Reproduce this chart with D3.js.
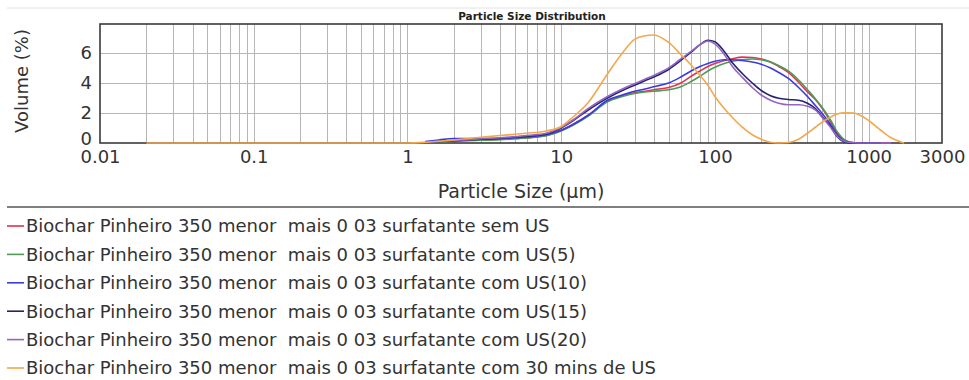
<!DOCTYPE html>
<html>
<head>
<meta charset="utf-8">
<script src="https://cdn.jsdelivr.net/npm/d3@7/dist/d3.min.js"></script>
<style>
  html, body { margin: 0; padding: 0; background: #fff; }
  svg { display: block; font-family: "DejaVu Sans", Verdana, sans-serif; }
  .legend text { white-space: pre; }
</style>
</head>
<body>
<svg id="chart" width="969" height="380"></svg>
<script>
// Particle sizes (µm) at which the volume fractions are sampled
const sizes = [0.02, 0.1, 0.5, 1, 1.3, 1.6, 2, 2.5, 3, 4, 5, 6, 8, 10, 12, 15, 20, 25, 30,
  35, 40, 50, 60, 70, 80, 90, 100, 115, 130, 150, 175, 200, 230, 260, 300, 350, 400, 450,
  500, 560, 630, 700, 800, 900, 1000, 1200, 1400, 1700];

// Volume (%) per sample, null where the measurement has no value
const semUS = [null, null, null, null, 0.05, 0.1, 0.15, 0.18, 0.2, 0.25, 0.3, 0.35, 0.5, 0.85,
  1.25, 1.85, 2.8, 3.15, 3.35, 3.45, 3.55, 3.7, 4.0, 4.45, 4.8, 5.1, 5.3, 5.5, 5.62, 5.72, 5.7,
  5.6, 5.4, 5.1, 4.7, 4.05, 3.4, 2.9, 2.3, 1.5, 0.6, 0.15, 0.02, 0, 0, 0, 0, null];
const comUS5 = [null, null, null, null, 0.03, 0.08, 0.12, 0.15, 0.18, 0.22, 0.28, 0.33, 0.48, 0.8,
  1.2, 1.8, 2.75, 3.1, 3.3, 3.4, 3.45, 3.55, 3.75, 4.1, 4.45, 4.8, 5.05, 5.3, 5.45, 5.55, 5.6,
  5.55, 5.4, 5.15, 4.8, 4.2, 3.55, 2.95, 2.35, 1.6, 0.7, 0.2, 0.02, 0, 0, 0, null, null];
const comUS10 = [null, null, null, null, 0.1, 0.2, 0.3, 0.3, 0.3, 0.3, 0.35, 0.4, 0.55, 0.85,
  1.25, 1.85, 2.85, 3.2, 3.45, 3.6, 3.75, 4.0, 4.4, 4.8, 5.1, 5.3, 5.45, 5.55, 5.55, 5.5, 5.4,
  5.25, 5.0, 4.7, 4.3, 3.7, 3.1, 2.5, 1.95, 1.3, 0.5, 0.12, 0, 0, 0, 0, null, null];
const comUS15 = [null, null, null, null, 0.05, 0.1, 0.15, 0.2, 0.25, 0.3, 0.4, 0.45, 0.6, 1.0,
  1.5, 2.2, 3.0, 3.5, 3.85, 4.15, 4.4, 4.9, 5.5, 6.05, 6.55, 6.85, 6.75, 6.1, 5.35, 4.65, 4.0,
  3.5, 3.15, 2.98, 2.9, 2.85, 2.65, 2.3, 1.75, 1.15, 0.38, 0.06, 0, 0, 0, 0, null, null];
const comUS20 = [null, null, null, null, 0.05, 0.12, 0.18, 0.22, 0.28, 0.35, 0.42, 0.5, 0.65, 1.05,
  1.55, 2.3, 3.1, 3.6, 3.95, 4.25, 4.5, 5.0, 5.6, 6.1, 6.55, 6.8, 6.6, 5.9, 5.1, 4.4, 3.7,
  3.2, 2.85, 2.65, 2.55, 2.55, 2.45, 2.2, 1.7, 1.1, 0.4, 0.1, 0.02, 0, 0, 0, 0, null];
const com30min = [0, 0, 0, 0, 0.05, 0.12, 0.2, 0.3, 0.38, 0.5, 0.58, 0.65, 0.8, 1.1,
  1.75, 2.7, 4.6, 6.0, 6.9, 7.15, 7.2, 6.7, 5.9, 5.2, 4.5, 3.85, 3.1, 2.3, 1.7, 1.07, 0.55,
  0.25, 0.05, 0, 0.03, 0.25, 0.65, 1.05, 1.4, 1.7, 1.95, 2.02, 2.0, 1.8, 1.5, 0.85, 0.35, 0];

const seriesNames = [
  "Biochar Pinheiro 350 menor  mais 0 03 surfatante sem US",
  "Biochar Pinheiro 350 menor  mais 0 03 surfatante com US(5)",
  "Biochar Pinheiro 350 menor  mais 0 03 surfatante com US(10)",
  "Biochar Pinheiro 350 menor  mais 0 03 surfatante com US(15)",
  "Biochar Pinheiro 350 menor  mais 0 03 surfatante com US(20)",
  "Biochar Pinheiro 350 menor  mais 0 03 surfatante com 30 mins de US"
];
const seriesValues = [semUS, comUS5, comUS10, comUS15, comUS20, com30min];
const seriesColors = ["#e2334f", "#4f9a55", "#3b3be0", "#24246e", "#9563c4", "#f3a84e"];

const xTickValues = [0.01, 0.1, 1, 10, 100, 1000, 3000];
const xTickLabels = ["0.01", "0.1", "1", "10", "100", "1000", "3000"];
const yTickValues = [0, 2, 4, 6];

const svg = d3.select("#chart");
const plot = { left: 100, right: 942, top: 24, bottom: 143 };

const x = d3.scaleLog().domain([0.01, 3000]).range([plot.left, plot.right]);
const y = d3.scaleLinear().domain([0, 7.93]).range([plot.bottom, plot.top]);

// thin rule above the chart
svg.append("line").attr("x1", 7).attr("x2", 969).attr("y1", 8).attr("y2", 8)
  .attr("stroke", "#e2e2e2").attr("stroke-width", 1);

// title
svg.append("text").attr("x", 532).attr("y", 20).attr("text-anchor", "middle")
  .attr("font-size", 10.5).attr("font-weight", "bold").attr("fill", "#222")
  .text("Particle Size Distribution");

// grid
const grid = svg.append("g").attr("stroke", "#b6b6b6").attr("stroke-width", 1);
grid.selectAll("line.v").data(x.ticks().filter(t => t > 0.01 && t < 3000)).join("line")
  .attr("class", "v")
  .attr("x1", d => Math.round(x(d)) + 0.5).attr("x2", d => Math.round(x(d)) + 0.5)
  .attr("y1", plot.top).attr("y2", plot.bottom);
grid.selectAll("line.h").data(yTickValues.filter(v => v > 0)).join("line")
  .attr("class", "h")
  .attr("x1", plot.left).attr("x2", plot.right)
  .attr("y1", d => Math.round(y(d)) + 0.5).attr("y2", d => Math.round(y(d)) + 0.5);

// frame
svg.append("rect").attr("x", plot.left).attr("y", plot.top)
  .attr("width", plot.right - plot.left).attr("height", plot.bottom - plot.top)
  .attr("fill", "none").attr("stroke", "#3a3a3a").attr("stroke-width", 1.6);

// curves
const line = d3.line()
  .defined(d => d.v != null)
  .x(d => x(d.s))
  .y(d => y(d.v))
  .curve(d3.curveMonotoneX);

svg.append("g").selectAll("path").data(seriesValues).join("path")
  .attr("d", vals => line(sizes.map((s, i) => ({ s, v: vals[i] }))))
  .attr("fill", "none")
  .attr("stroke", (d, i) => seriesColors[i])
  .attr("stroke-width", 1.6)
  .attr("stroke-linejoin", "round");

// axes
const xAxis = svg.append("g").attr("transform", `translate(0,${plot.bottom})`)
  .call(d3.axisBottom(x).tickValues(xTickValues)
    .tickFormat((d, i) => xTickLabels[i]).tickSize(0).tickPadding(7));
xAxis.select(".domain").remove();
xAxis.selectAll("text").attr("font-size", 18).attr("fill", "#333")
  .attr("font-family", "DejaVu Sans, sans-serif");

const yAxis = svg.append("g").attr("transform", `translate(${plot.left},0)`)
  .call(d3.axisLeft(y).tickValues(yTickValues).tickFormat(d3.format("d"))
    .tickSize(0).tickPadding(8));
yAxis.select(".domain").remove();
yAxis.selectAll("text").attr("font-size", 18).attr("fill", "#333")
  .attr("font-family", "DejaVu Sans, sans-serif");
// lift the zero label a touch so it clears the first x label
yAxis.selectAll(".tick").filter(d => d === 0).select("text").attr("dy", "0.1em");

// axis titles
svg.append("text").attr("x", 521).attr("y", 198).attr("text-anchor", "middle")
  .attr("font-size", 19).attr("fill", "#333").text("Particle Size (µm)");
svg.append("text").attr("transform", "translate(28,81) rotate(-90)")
  .attr("text-anchor", "middle").attr("font-size", 18).attr("fill", "#333")
  .text("Volume (%)");

// separator above legend
svg.append("line").attr("x1", 7).attr("x2", 969).attr("y1", 207).attr("y2", 207)
  .attr("stroke", "#555").attr("stroke-width", 1.6);

// legend
const legend = svg.append("g").attr("class", "legend");
const rows = legend.selectAll("g").data(seriesNames).join("g")
  .attr("transform", (d, i) => `translate(0,${226 + i * 28.4})`);
rows.append("line").attr("x1", 7).attr("x2", 24).attr("y1", 0).attr("y2", 0)
  .attr("stroke", (d, i) => seriesColors[i]).attr("stroke-width", 1.6);
rows.append("text").attr("x", 26).attr("y", 0).attr("dy", "0.35em")
  .attr("font-size", 18).attr("fill", "#333")
  .text(d => d);
</script>
</body>
</html>
